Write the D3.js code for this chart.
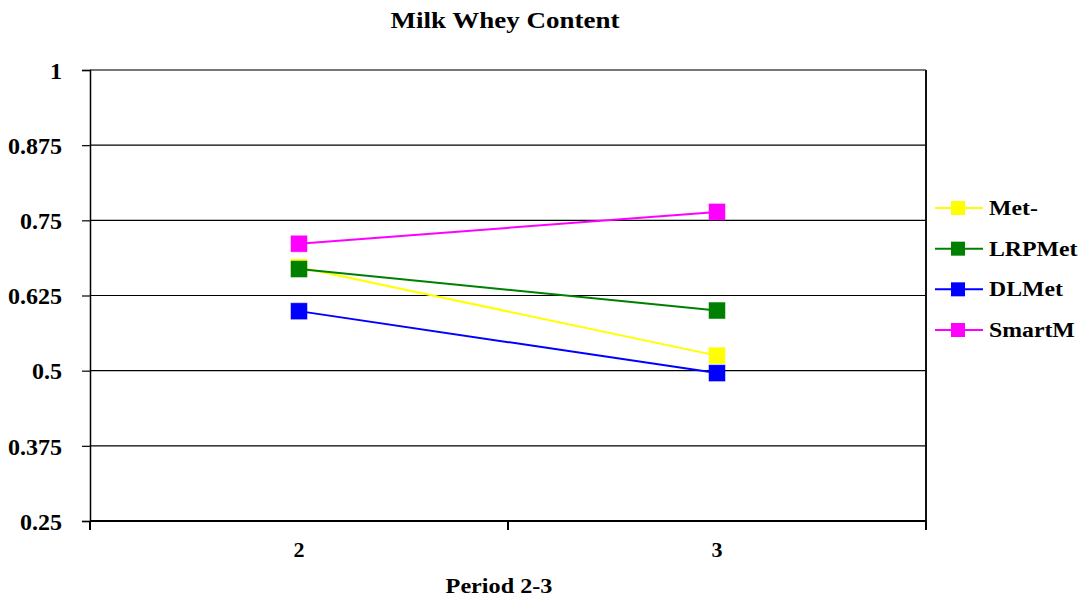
<!DOCTYPE html>
<html>
<head>
<meta charset="utf-8">
<script src="https://cdn.jsdelivr.net/npm/d3@7"></script>
<style>
  html, body { margin: 0; padding: 0; background: #fff; }
  svg { display: block; }
  svg text { font-family: "Liberation Serif", "Times New Roman", Tinos, Times, "DejaVu Serif", serif !important; font-weight: bold; fill: #000; }
</style>
</head>
<body>
<svg id="chart" width="1088" height="596"></svg>
<script>
// Chart data
const periods = ["2", "3"];
const seriesNames = ["Met-", "LRPMet", "DLMet", "SmartM"];
const seriesColors = ["#ffff00", "#008000", "#0000ff", "#ff00ff"];
const metMinus = [0.672, 0.525];
const lrpMet = [0.669, 0.600];
const dlMet = [0.599, 0.496];
const smartM = [0.711, 0.764];
const yTicks = [0.25, 0.375, 0.5, 0.625, 0.75, 0.875, 1];
const yTickLabels = ["0.25", "0.375", "0.5", "0.625", "0.75", "0.875", "1"];

const seriesValues = [metMinus, lrpMet, dlMet, smartM];

const svg = d3.select("#chart");
const plot = { left: 90, right: 926, top: 70, bottom: 521 };

// Each period occupies half of the plot width; points sit at band centres
const x = d3.scaleBand().domain(periods).range([plot.left, plot.right]).padding(0);
const xMid = d => x(d) + x.bandwidth() / 2;
const y = d3.scaleLinear().domain([0.25, 1]).range([plot.bottom, plot.top]);

// Text helper: places a label and widens it horizontally around its anchor
function label(parent, tx, ty, str, size, sx, anchor) {
  return parent.append("text")
    .attr("transform", `translate(${tx},${ty}) scale(${sx},1)`)
    .attr("text-anchor", anchor || "start")
    .style("font-size", size + "px")
    .text(str);
}

// Title
label(svg, 505, 28, "Milk Whey Content", 22.5, 1.2, "middle");

// Horizontal grid lines
svg.append("g")
  .selectAll("line")
  .data(yTicks.filter(t => t > 0.25))
  .join("line")
  .attr("x1", plot.left).attr("x2", plot.right)
  .attr("y1", d => y(d)).attr("y2", d => y(d))
  .attr("stroke", d => d === 1 ? "#777" : "#000")
  .attr("stroke-width", d => d === 1 ? 2 : 1.2);

// Right border of plot area
svg.append("line")
  .attr("x1", plot.right).attr("x2", plot.right)
  .attr("y1", plot.top).attr("y2", plot.bottom)
  .attr("stroke", "#111").attr("stroke-width", 2);

// Y axis
const yAxis = d3.axisLeft(y)
  .tickValues(yTicks)
  .tickFormat((d, i) => yTickLabels[i])
  .tickSize(8)
  .tickPadding(20);
const gy = svg.append("g")
  .attr("transform", `translate(${plot.left},0)`)
  .call(yAxis);
gy.select(".domain").attr("stroke", "#000").attr("stroke-width", 1.5);
gy.selectAll(".tick line").attr("stroke", "#000").attr("stroke-width", 1.2);
gy.selectAll(".tick text")
  .style("font-size", "24px")
  .attr("dy", "0.34em")
  .attr("fill", "#000");

// X axis: ticks at category boundaries
const xBoundaries = [plot.left, (plot.left + plot.right) / 2, plot.right];
const gx = svg.append("g");
gx.append("line")
  .attr("x1", plot.left).attr("x2", plot.right)
  .attr("y1", plot.bottom).attr("y2", plot.bottom)
  .attr("stroke", "#000").attr("stroke-width", 2);
gx.selectAll("line.tick")
  .data(xBoundaries)
  .join("line")
  .attr("class", "tick")
  .attr("x1", d => d).attr("x2", d => d)
  .attr("y1", plot.bottom).attr("y2", plot.bottom + 9)
  .attr("stroke", "#000").attr("stroke-width", 2);
periods.forEach(p => label(gx, xMid(p), 557, p, 22, 1, "middle"));

// X axis title
label(svg, 499, 593, "Period 2-3", 22, 1.1, "middle");

// Series lines and markers
const line = d3.line().x((d, i) => xMid(periods[i])).y(d => y(d));
const markerSize = 16;

seriesValues.forEach((vals, si) => {
  const g = svg.append("g");
  g.append("path")
    .datum(vals)
    .attr("d", line)
    .attr("fill", "none")
    .attr("stroke", seriesColors[si])
    .attr("stroke-width", 2);
  g.selectAll("rect")
    .data(vals)
    .join("rect")
    .attr("x", (d, i) => xMid(periods[i]) - markerSize / 2)
    .attr("y", d => y(d) - markerSize / 2)
    .attr("width", markerSize).attr("height", markerSize)
    .attr("fill", seriesColors[si])
    .attr("stroke", seriesColors[si])
    .attr("stroke-opacity", 0.5)
    .attr("stroke-width", 1);
});

// Legend
const legendY = d3.scalePoint().domain(seriesNames).range([208, 330]);
const legend = svg.append("g");
seriesNames.forEach((name, si) => {
  const ly = legendY(name);
  legend.append("line")
    .attr("x1", 935).attr("x2", 983)
    .attr("y1", ly).attr("y2", ly)
    .attr("stroke", seriesColors[si]).attr("stroke-width", 2);
  legend.append("rect")
    .attr("x", 951).attr("y", ly - 7)
    .attr("width", 14).attr("height", 14)
    .attr("fill", seriesColors[si]);
  label(legend, 989, ly + 7, name, 20.5, 1.16, "start");
});
</script>
</body>
</html>
